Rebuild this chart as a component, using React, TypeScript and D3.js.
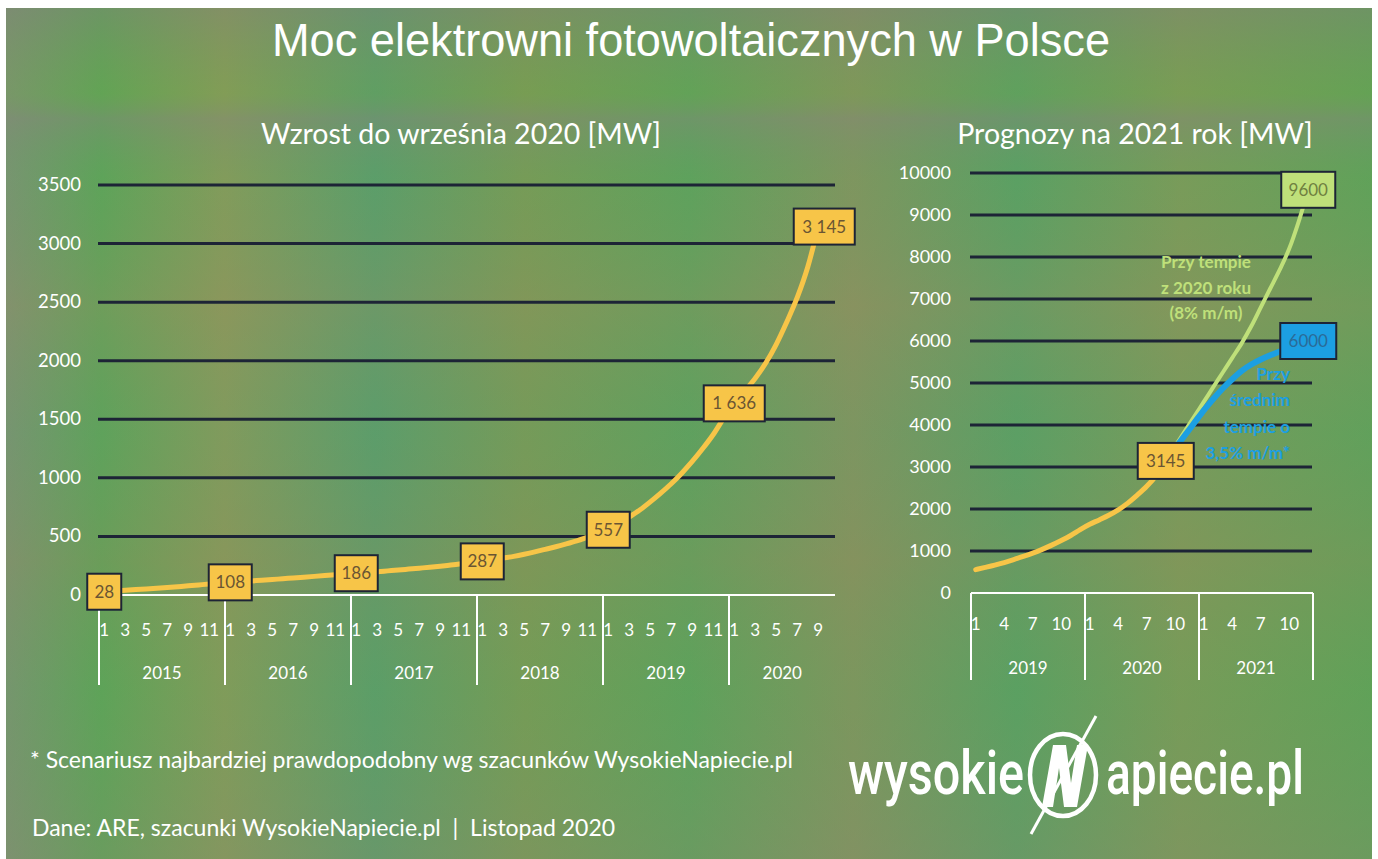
import React from "react";
import * as d3 from "d3";

// dane: moc zainstalowana [MW], miesiac po miesiacu
const leftYears = ["2015", "2016", "2017", "2018", "2019", "2020"];
const pv2015 = [28, 34, 40, 46, 52, 58, 64, 71, 78, 86, 94, 101];
const pv2016 = [108, 114, 120, 126, 132, 139, 145, 152, 159, 166, 173, 180];
const pv2017 = [186, 193, 199, 206, 213, 221, 229, 237, 246, 256, 266, 276];
const pv2018 = [287, 300, 315, 330, 348, 368, 390, 412, 436, 462, 492, 523];
const pv2019 = [557, 610, 665, 725, 795, 870, 950, 1040, 1140, 1250, 1370, 1510];
const pv2020 = [1636, 1740, 1850, 1980, 2140, 2330, 2540, 2800, 3145];

// prognozy 2020-09 .. 2021-12
const rightYears = ["2019", "2020", "2021"];
const forecastStart = "2020-9";
const fastGrowth = [3145, 3500, 3850, 4200, 4550, 4900, 5250, 5600, 5950, 6350, 6800, 7250, 7700, 8200, 8850, 9600];
const slowGrowth = [3145, 3450, 3750, 4050, 4350, 4620, 4870, 5090, 5290, 5440, 5560, 5660, 5750, 5840, 5920, 6000];

const leftTicks = [0, 500, 1000, 1500, 2000, 2500, 3000, 3500];
const rightTicks = [0, 1000, 2000, 3000, 4000, 5000, 6000, 7000, 8000, 9000, 10000];
const leftMonthTicks = [1, 3, 5, 7, 9, 11];
const rightMonthTicks = [1, 4, 7, 10];
const leftLabelKeys = ["2015-1", "2016-1", "2017-1", "2018-1", "2019-1", "2020-1", "2020-9"];

const ORANGE = "#f7c548";
const GREEN = "#bfe07a";
const BLUE = "#1c9fe2";
const GRID = "#1d2436";
const LABEL_FONT = "Lato, 'Open Sans', sans-serif";

const pvByYear = [pv2015, pv2016, pv2017, pv2018, pv2019, pv2020];
const leftSeries = leftYears.flatMap((y, i) => pvByYear[i].map((v, m) => ({ key: `${y}-${m + 1}`, v })));
const rightMonths = rightYears.flatMap((y) => d3.range(1, 13).map((m) => `${y}-${m}`));
const rightActual = leftSeries.filter((d) => +d.key.slice(0, 4) >= 2019);
const fcStart = rightMonths.indexOf(forecastStart);
const fastSeries = fastGrowth.map((v, i) => ({ key: rightMonths[fcStart + i], v }));
const slowSeries = slowGrowth.map((v, i) => ({ key: rightMonths[fcStart + i], v }));

const fmtSpace = d3.formatLocale({ decimal: ",", thousands: " ", grouping: [3], currency: ["", ""] }).format(",");

const Box = ({ cx, cy, text, fill, color, w }: any) => (
  <g>
    <rect x={cx - w / 2} y={cy - 18} width={w} height={36} fill={fill} stroke={GRID} strokeWidth={2} />
    <text x={cx} y={cy + 6} textAnchor="middle" fontFamily={LABEL_FONT} fontSize={17} fill={color}>
      {text}
    </text>
  </g>
);

const App = () => {
  const W = 1378;
  const H = 859;

  // lewy wykres
  const xL = d3.scaleBand<string>().domain(leftSeries.map((d) => d.key)).range([99, 99 + leftSeries.length * 10.5]);
  const yL = d3.scaleLinear().domain([0, 3500]).range([595, 185]);
  const cxL = (k: string) => (xL(k) as number) + xL.bandwidth() / 2;
  const lineL = d3.line<any>().x((d) => cxL(d.key)).y((d) => yL(d.v)).curve(d3.curveMonotoneX);

  // prawy wykres
  const xR = d3.scaleBand<string>().domain(rightMonths).range([971, 1313]);
  const yR = d3.scaleLinear().domain([0, 10000]).range([593, 173]);
  const cxR = (k: string) => (xR(k) as number) + xR.bandwidth() / 2;
  const lineR = d3.line<any>().x((d) => cxR(d.key)).y((d) => yR(d.v)).curve(d3.curveMonotoneX);

  const last = (a: any[]) => a[a.length - 1];

  return (
    <svg width={W} height={H} style={{ position: "absolute", left: 0, top: 0 }}>
      <defs>
        <linearGradient id="bgx" x1="0" x2="1" y1="0" y2="0">
          <stop offset="0" stopColor="#7f9274" />
          <stop offset="0.07" stopColor="#5fa458" />
          <stop offset="0.16" stopColor="#8c9a5a" />
          <stop offset="0.27" stopColor="#5c9d6c" />
          <stop offset="0.38" stopColor="#7d9a55" />
          <stop offset="0.5" stopColor="#5fa25c" />
          <stop offset="0.62" stopColor="#87935f" />
          <stop offset="0.74" stopColor="#5ba064" />
          <stop offset="0.86" stopColor="#809a58" />
          <stop offset="1" stopColor="#62a258" />
        </linearGradient>
        <linearGradient id="bgy" x1="0" x2="0" y1="0" y2="1">
          <stop offset="0" stopColor="#7a8670" stopOpacity="0.5" />
          <stop offset="0.1" stopColor="#6aa24e" stopOpacity="0.3" />
          <stop offset="0.13" stopColor="#7c8a74" stopOpacity="0.5" />
          <stop offset="0.2" stopColor="#5aa060" stopOpacity="0.2" />
          <stop offset="0.35" stopColor="#8a9060" stopOpacity="0.35" />
          <stop offset="0.5" stopColor="#5e9c66" stopOpacity="0.25" />
          <stop offset="0.65" stopColor="#80905c" stopOpacity="0.35" />
          <stop offset="0.8" stopColor="#5aa05a" stopOpacity="0.25" />
          <stop offset="1" stopColor="#7a9068" stopOpacity="0.4" />
        </linearGradient>
      </defs>
      <rect x={0} y={0} width={W} height={H} fill="#ffffff" />
      <rect x={6} y={8} width={W - 12} height={H - 8} fill="url(#bgx)" />
      <rect x={6} y={8} width={W - 12} height={H - 8} fill="url(#bgy)" />

      <text x={272} y={56} fontFamily="'Liberation Sans', Arial, sans-serif" fontSize={46} fill="#fff" textLength={838} lengthAdjust="spacingAndGlyphs">
        Moc elektrowni fotowoltaicznych w Polsce
      </text>
      <text x={461} y={144} textAnchor="middle" fontFamily={LABEL_FONT} fontSize={28.5} fill="#fff">
        Wzrost do września 2020 [MW]
      </text>
      <text x={1135} y={144} textAnchor="middle" fontFamily={LABEL_FONT} fontSize={28.5} fill="#fff">
        Prognozy na 2021 rok [MW]
      </text>

      {/* lewy wykres */}
      <g>
        {leftTicks.map((t) => (
          <g key={t}>
            {t > 0 && <line x1={98} x2={835} y1={yL(t)} y2={yL(t)} stroke={GRID} strokeWidth={3} />}
            <text x={81} y={yL(t) + 6} textAnchor="end" fontFamily={LABEL_FONT} fontSize={18.5} fill="#fff">
              {t}
            </text>
          </g>
        ))}
        <line x1={99} x2={835} y1={yL(0)} y2={yL(0)} stroke="#fff" strokeWidth={2} />
        {leftYears.map((y) => {
          const x0 = xL(`${y}-1`) as number;
          const n = pvByYear[leftYears.indexOf(y)].length;
          return (
            <g key={y}>
              <line x1={x0} x2={x0} y1={yL(0)} y2={685} stroke="#fff" strokeWidth={2} />
              {leftMonthTicks.filter((m) => m <= n).map((m) => (
                <text key={m} x={cxL(`${y}-${m}`)} y={636} textAnchor="middle" fontFamily={LABEL_FONT} fontSize={17} fill="#fff">
                  {m}
                </text>
              ))}
              <text x={x0 + (n * xL.bandwidth()) / 2 + (n < 12 ? 6 : 0)} y={679} textAnchor="middle" fontFamily={LABEL_FONT} fontSize={17} fill="#fff">
                {y}
              </text>
            </g>
          );
        })}
        <path d={lineL(leftSeries) as string} fill="none" stroke={ORANGE} strokeWidth={5} strokeLinecap="round" />
        {leftLabelKeys.map((k) => {
          const d = leftSeries.find((p) => p.key === k)!;
          const txt = fmtSpace(d.v);
          return <Box key={k} cx={cxL(k) + (k === "2020-9" ? 6 : 0)} cy={yL(d.v)} text={txt} fill={ORANGE} color="#6a5533" w={txt.length * 9 + 16} />;
        })}
      </g>

      {/* prawy wykres */}
      <g>
        {rightTicks.map((t) => (
          <g key={t}>
            {t > 0 && <line x1={970} x2={1312} y1={yR(t)} y2={yR(t)} stroke={GRID} strokeWidth={3} />}
            <text x={951} y={yR(t) + 6} textAnchor="end" fontFamily={LABEL_FONT} fontSize={18} fill="#fff">
              {t}
            </text>
          </g>
        ))}
        <line x1={971} x2={1313} y1={yR(0)} y2={yR(0)} stroke="#fff" strokeWidth={2} />
        <line x1={1313} x2={1313} y1={yR(0)} y2={680} stroke="#fff" strokeWidth={2} />
        {rightYears.map((y) => {
          const x0 = xR(`${y}-1`) as number;
          return (
            <g key={y}>
              <line x1={x0} x2={x0} y1={yR(0)} y2={680} stroke="#fff" strokeWidth={2} />
              {rightMonthTicks.map((m) => (
                <text key={m} x={cxR(`${y}-${m}`)} y={630} textAnchor="middle" fontFamily={LABEL_FONT} fontSize={17} fill="#fff">
                  {m}
                </text>
              ))}
              <text x={x0 + 6 * xR.bandwidth()} y={674} textAnchor="middle" fontFamily={LABEL_FONT} fontSize={17} fill="#fff">
                {y}
              </text>
            </g>
          );
        })}
        <path d={lineR(rightActual) as string} fill="none" stroke={ORANGE} strokeWidth={5} strokeLinecap="round" />
        <path d={lineR(fastSeries) as string} fill="none" stroke={GREEN} strokeWidth={4} />
        <path d={lineR(slowSeries) as string} fill="none" stroke={BLUE} strokeWidth={6} />

        <g fontFamily={LABEL_FONT} fontSize={17} fill={GREEN} textAnchor="middle" fontWeight={700}>
          <text x={1206} y={268}>Przy tempie</text>
          <text x={1206} y={294}>z 2020 roku</text>
          <text x={1206} y={319}>(8% m/m)</text>
        </g>
        <g fontFamily={LABEL_FONT} fontSize={17} fill={BLUE} textAnchor="end" fontWeight={700}>
          <text x={1290} y={380}>Przy</text>
          <text x={1290} y={406}>średnim</text>
          <text x={1290} y={433}>tempie o</text>
          <text x={1290} y={459}>3,5% m/m*</text>
        </g>

        <Box cx={cxR(forecastStart)} cy={yR(last(rightActual).v)} text={String(last(rightActual).v)} fill={ORANGE} color="#6a5533" w={56} />
        <Box cx={cxR(last(fastSeries).key)} cy={yR(last(fastSeries).v)} text={String(last(fastSeries).v)} fill={GREEN} color="#6f8040" w={54} />
        <Box cx={cxR(last(slowSeries).key)} cy={yR(last(slowSeries).v)} text={String(last(slowSeries).v)} fill={BLUE} color="#2a6b98" w={56} />
      </g>

      {/* stopka */}
      <text x={30} y={768} fontFamily={LABEL_FONT} fontSize={23} fill="#fff">
        * Scenariusz najbardziej prawdopodobny wg szacunków WysokieNapiecie.pl
      </text>
      <text x={32} y={836} fontFamily={LABEL_FONT} fontSize={23} fill="#fff" style={{ whiteSpace: "pre" }}>
        {"Dane: ARE, szacunki WysokieNapiecie.pl  |  Listopad 2020"}
      </text>

      {/* logo */}
      <g fill="#fff" fontFamily="Roboto, sans-serif" fontWeight={500}>
        <text x={848} y={794} fontSize={62} textLength={176} lengthAdjust="spacingAndGlyphs">wysokie</text>
        <ellipse cx={1063} cy={775} rx={33} ry={41} fill="none" stroke="#fff" strokeWidth={4.5} />
        <polygon points="1042,807 1053,745 1066,745 1071,783 1077,745 1088,745 1077,807 1064,807 1059,768 1053,807" />
        <line x1={1096} y1={716} x2={1031} y2={834} stroke="#fff" strokeWidth={3} />
        <text x={1106} y={794} fontSize={62} textLength={198} lengthAdjust="spacingAndGlyphs">apiecie.pl</text>
      </g>
    </svg>
  );
};

export default App;
